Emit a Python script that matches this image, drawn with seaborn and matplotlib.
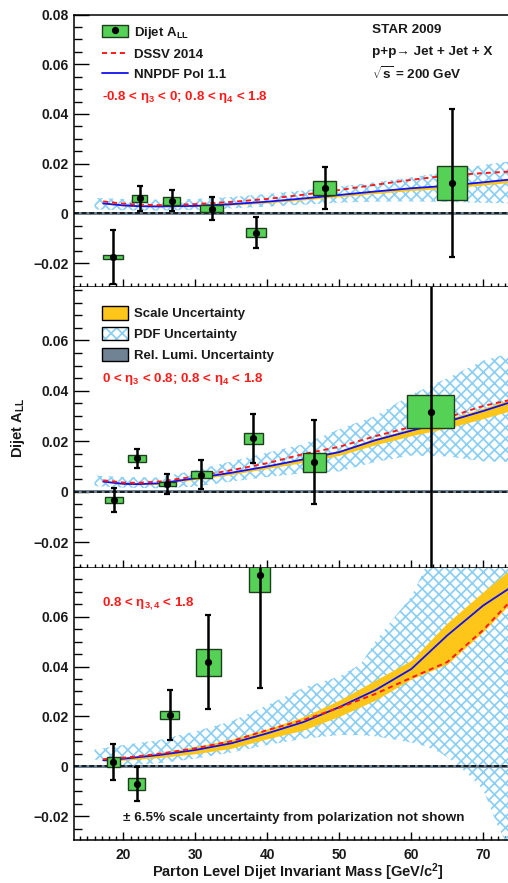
import numpy as np
import matplotlib
matplotlib.use("Agg")
import matplotlib.pyplot as plt
import seaborn as sns
from matplotlib.patches import Patch
from matplotlib.lines import Line2D
from matplotlib.legend_handler import HandlerTuple
from matplotlib.ticker import FixedLocator, MultipleLocator, FuncFormatter

# ---------------- STAR 2009 dijet A_LL, three eta topologies ----------------
# Topology A: -0.8 < eta3 < 0 ; 0.8 < eta4 < 1.8
mass_a = [18.55, 22.25, 26.7, 32.3, 38.4, 48.0, 65.7]
mass_sys_a = [1.35, 1.0, 1.2, 1.6, 1.4, 1.6, 2.1]
all_a = [-0.0175, 0.0060, 0.0050, 0.0019, -0.0078, 0.0101, 0.0122]
stat_a = [0.0109, 0.0049, 0.0042, 0.0045, 0.0062, 0.0085, 0.0298]
sys_a = [0.0009, 0.0013, 0.0016, 0.0015, 0.0019, 0.0028, 0.0069]

# Topology B: 0 < eta3 < 0.8 ; 0.8 < eta4 < 1.8
mass_b = [18.65, 21.9, 26.1, 30.85, 38.05, 46.5, 62.7]
mass_sys_b = [1.25, 1.2, 1.2, 1.45, 1.35, 1.6, 3.25]
all_b = [-0.0033, 0.0132, 0.0031, 0.0068, 0.0212, 0.0117, 0.0317]
stat_b = [0.0046, 0.0037, 0.0041, 0.0058, 0.0098, 0.0167, 0.0700]
sys_b = [0.0011, 0.0015, 0.0009, 0.0015, 0.0021, 0.0038, 0.0066]

# Topology C: 0.8 < eta3,4 < 1.8
mass_c = [18.6, 21.85, 26.45, 31.8, 38.95]
mass_sys_c = [0.9, 1.2, 1.35, 1.7, 1.45]
all_c = [0.0016, -0.0071, 0.0207, 0.0417, 0.0769]
stat_c = [0.0072, 0.0067, 0.0100, 0.0189, 0.0456]
sys_c = [0.0020, 0.0023, 0.0016, 0.0055, 0.0069]

# ---------------- theory predictions ----------------
theory_mass = [17.2, 20, 22, 25, 30, 35, 40, 45, 50, 55, 60, 65, 70, 75]

nnpdf_a = [0.0040, 0.0032, 0.0029, 0.0028, 0.0030, 0.0037, 0.0047, 0.0060, 0.0074, 0.0088, 0.0101, 0.0111, 0.0125, 0.0140]
dssv_a = [0.0048, 0.0039, 0.0035, 0.0033, 0.0037, 0.0046, 0.0058, 0.0075, 0.0094, 0.0115, 0.0135, 0.0152, 0.0162, 0.0170]
scale_lo_a = [0.0038, 0.0030, 0.0027, 0.0026, 0.0027, 0.0033, 0.0042, 0.0054, 0.0067, 0.0080, 0.0092, 0.0101, 0.0114, 0.0128]
scale_hi_a = [0.0041, 0.0033, 0.0030, 0.0029, 0.0031, 0.0038, 0.0048, 0.0061, 0.0075, 0.0089, 0.0102, 0.0112, 0.0126, 0.0141]

nnpdf_b = [0.0040, 0.0031, 0.0030, 0.0033, 0.0053, 0.0075, 0.0100, 0.0128, 0.0157, 0.0204, 0.0242, 0.0278, 0.0320, 0.0366]
dssv_b = [0.0045, 0.0036, 0.0035, 0.0040, 0.0060, 0.0085, 0.0113, 0.0149, 0.0178, 0.0220, 0.0257, 0.0294, 0.0340, 0.0372]
scale_lo_b = [0.0038, 0.0029, 0.0027, 0.0029, 0.0048, 0.0068, 0.0092, 0.0116, 0.0144, 0.0186, 0.0222, 0.0252, 0.0290, 0.0331]
scale_hi_b = [0.0042, 0.0033, 0.0032, 0.0035, 0.0056, 0.0079, 0.0105, 0.0134, 0.0164, 0.0212, 0.0251, 0.0288, 0.0331, 0.0378]

nnpdf_c = [0.0024, 0.0030, 0.0036, 0.0045, 0.0065, 0.0092, 0.0132, 0.0177, 0.0237, 0.0305, 0.0390, 0.0525, 0.0645, 0.0740]
dssv_c = [0.0028, 0.0034, 0.0040, 0.0050, 0.0072, 0.0100, 0.0145, 0.0185, 0.0235, 0.0290, 0.0355, 0.0418, 0.0547, 0.0700]
scale_lo_c = [0.0020, 0.0024, 0.0028, 0.0035, 0.0050, 0.0072, 0.0110, 0.0145, 0.0200, 0.0265, 0.0350, 0.0410, 0.0540, 0.0690]
scale_hi_c = [0.0030, 0.0036, 0.0043, 0.0053, 0.0078, 0.0108, 0.0150, 0.0198, 0.0265, 0.0345, 0.0425, 0.0575, 0.0700, 0.0820]

# NNPDF replica (PDF) uncertainty envelopes
pdf_mass_a = [16, 20, 25, 30, 35, 40, 45, 50, 55, 60, 65, 70, 75]
pdf_lo_a = [0.0016, 0.0012, 0.0011, 0.0014, 0.0020, 0.0027, 0.0035, 0.0043, 0.0047, 0.0048, 0.0046, 0.0042, 0.0040]
pdf_hi_a = [0.0062, 0.0058, 0.0055, 0.0058, 0.0066, 0.0078, 0.0092, 0.0108, 0.0125, 0.0145, 0.0168, 0.0195, 0.0215]

pdf_mass_b = [16, 20, 25, 30, 35, 40, 45, 50, 55, 60, 65, 70, 75]
pdf_lo_b = [0.0022, 0.0016, 0.0013, 0.0020, 0.0040, 0.0058, 0.0073, 0.0080, 0.0118, 0.0143, 0.0140, 0.0120, 0.0118]
pdf_hi_b = [0.0064, 0.0058, 0.0056, 0.0085, 0.0120, 0.0155, 0.0188, 0.0248, 0.0300, 0.0385, 0.0450, 0.0520, 0.0560]

pdf_mass_c = [16, 20, 25, 30, 35, 40, 45, 50, 53, 55, 58, 60, 62, 64, 66, 68, 70, 72, 74]
pdf_lo_c = [0.0027, 0.0002, 0.0012, 0.0030, 0.0055, 0.0085, 0.0110, 0.0125, 0.0125, 0.0120, 0.0105, 0.0095, 0.0080, 0.0055, 0.0015, -0.0035, -0.0095, -0.0240, -0.0350]
pdf_hi_c = [0.0067, 0.0085, 0.0105, 0.0140, 0.0180, 0.0245, 0.0315, 0.0360, 0.0410, 0.0500, 0.0610, 0.0680, 0.0800, 0.0900, 0.0950, 0.0950, 0.0950, 0.0950, 0.0950]

# relative luminosity systematic around zero
lumi_unc = 0.0006

# ---------------- style ----------------
sns.set_theme(style="ticks")
plt.rcParams["font.family"] = ["Liberation Sans", "DejaVu Sans"]
plt.rcParams["font.weight"] = "bold"
plt.rcParams["mathtext.fontset"] = "custom"
plt.rcParams["mathtext.rm"] = "Liberation Sans:bold"
plt.rcParams["mathtext.it"] = "Liberation Sans:bold"
plt.rcParams["mathtext.bf"] = "Liberation Sans:bold"
plt.rcParams["hatch.linewidth"] = 1.25
plt.rcParams["text.color"] = "#1a1a1a"

GREEN = "#55d155"
GREEN_EDGE = "#1d3d1d"
YELLOW = "#ffc61a"
HATCH = "#8ccff5"
SLATE = "#6f8395"
RED = "#ff1a1a"
BLUE = "#1010f0"
TXT = 9.5

W, H = 508, 883
fig = plt.figure(figsize=(W / 100, H / 100), dpi=100)

left = 74 / W
width = 1.0 - left
rows = [(14.5, 286.7), (286.7, 568.3), (568.3, 840.0)]
axes = []
for top_px, bot_px in rows:
    ax = fig.add_axes([left, 1 - bot_px / H, width, (bot_px - top_px) / H])
    axes.append(ax)

ylims = [(-0.0295, 0.0800), (-0.0304, 0.0813), (-0.0296, 0.0794)]
majors = [[-0.02, 0, 0.02, 0.04, 0.06, 0.08],
          [-0.02, 0, 0.02, 0.04, 0.06],
          [-0.02, 0, 0.02, 0.04, 0.06]]

panels = [
    (mass_a, mass_sys_a, all_a, stat_a, sys_a, nnpdf_a, dssv_a, scale_lo_a, scale_hi_a, pdf_mass_a, pdf_lo_a, pdf_hi_a),
    (mass_b, mass_sys_b, all_b, stat_b, sys_b, nnpdf_b, dssv_b, scale_lo_b, scale_hi_b, pdf_mass_b, pdf_lo_b, pdf_hi_b),
    (mass_c, mass_sys_c, all_c, stat_c, sys_c, nnpdf_c, dssv_c, scale_lo_c, scale_hi_c, pdf_mass_c, pdf_lo_c, pdf_hi_c),
]


def yfmt(v, _):
    if abs(v) < 1e-9:
        return "0"
    return f"{v:.2f}".replace("-", "\u2212")


for i, (ax, p) in enumerate(zip(axes, panels)):
    m, msys, a, st, sy, nn, ds, slo, shi, pm, plo, phi = p
    m = np.asarray(m); msys = np.asarray(msys)
    a = np.asarray(a); st = np.asarray(st); sy = np.asarray(sy)

    # PDF uncertainty (hatched) and scale uncertainty (solid) bands
    ax.fill_between(pm, plo, phi, facecolor="none", edgecolor=HATCH,
                    hatch="xxx", linewidth=0, zorder=1)
    ax.fill_between(theory_mass, slo, shi, color=YELLOW, linewidth=0, zorder=2)

    # relative luminosity band and zero line
    ax.axhspan(-lumi_unc, lumi_unc, color=SLATE, linewidth=0, zorder=2.5)
    ax.axhline(0, color="black", linestyle=(0, (3.2, 1.8)), linewidth=1.1, zorder=2.6)

    # theory curves
    sns.lineplot(x=theory_mass, y=nn, ax=ax, color=BLUE, linewidth=1.3, zorder=3)
    sns.lineplot(x=theory_mass, y=ds, ax=ax, color=RED, linewidth=1.4, zorder=3.1)
    ax.lines[-1].set_dashes([2.6, 2.0])

    # systematic boxes and statistical error bars
    ax.bar(m, 2 * sy, bottom=a - sy, width=2 * msys, color=GREEN,
           edgecolor=GREEN_EDGE, linewidth=1.0, zorder=4)
    ax.errorbar(m, a, yerr=st, fmt="o", color="black", ms=4.2,
                elinewidth=1.8, capsize=2.2, capthick=1.6, zorder=5)

    ax.set_xlim(13.15, 73.43)
    ax.set_ylim(*ylims[i])
    ax.yaxis.set_major_locator(FixedLocator(majors[i]))
    ax.yaxis.set_minor_locator(MultipleLocator(0.005))
    ax.yaxis.set_major_formatter(FuncFormatter(yfmt))
    ax.xaxis.set_major_locator(MultipleLocator(10))
    ax.xaxis.set_minor_locator(MultipleLocator(1))
    ax.tick_params(axis="y", which="major", direction="in", length=11, width=1.0,
                   labelsize=10, pad=4, colors="black", labelcolor="#1a1a1a")
    ax.tick_params(axis="y", which="minor", direction="in", length=5.5, width=1.0, colors="black")
    ax.tick_params(axis="x", which="major", direction="in", length=6, width=1.0,
                   labelsize=10, pad=6, colors="black", labelcolor="#1a1a1a")
    ax.tick_params(axis="x", which="minor", direction="in", length=3, width=1.0, colors="black")
    ax.spines["right"].set_visible(False)
    ax.spines["top"].set_visible(i == 0)
    for s in ax.spines.values():
        s.set_color("black")
        s.set_linewidth(1.1)
    if i < 2:
        ax.tick_params(axis="x", labelbottom=False)
    ax.set_xlabel("")
    ax.set_ylabel("")
    ax.set_facecolor("white")

ax_a, ax_b, ax_c = axes
red_kw = dict(color=RED, fontsize=9.6, ha="left", va="center")
overlay = {tuple: HandlerTuple(ndivide=1, pad=0)}

# top panel legend and labels
h_data = (Patch(facecolor=GREEN, edgecolor=GREEN_EDGE, linewidth=1.0),
          Line2D([], [], marker="o", color="black", ms=4.2, linestyle="none"))
h_dssv = Line2D([], [], color=RED, linewidth=1.4, dashes=[2.6, 2.0])
h_nnpdf = Line2D([], [], color=BLUE, linewidth=1.3)
ax_a.legend([h_data, h_dssv, h_nnpdf],
            ["Dijet A$_{\\mathregular{LL}}$", "DSSV 2014", "NNPDF Pol 1.1"],
            handler_map=overlay,
            loc="upper left", bbox_to_anchor=(0.0638, 0.963), frameon=False,
            fontsize=TXT, handlelength=2.0, handleheight=1.0, handletextpad=0.45,
            labelspacing=0.52, borderpad=0, borderaxespad=0)
ax_a.text(0.0638, 0.698, "-0.8 < $\\eta_{3}$ < 0; 0.8 < $\\eta_{4}$ < 1.8",
          transform=ax_a.transAxes, **red_kw)
for y, s in [(0.943, "STAR 2009"),
             (0.861, "p+p\u2192 Jet + Jet + X"),
             (0.784, "$\\sqrt{s}$ = 200 GeV")]:
    ax_a.text(0.686, y, s, transform=ax_a.transAxes, fontsize=9.7,
              ha="left", va="center")

# middle panel legend and labels
h_scale = Patch(facecolor=YELLOW, edgecolor="black", linewidth=1.0)
h_pdf = (Patch(facecolor="white", edgecolor=HATCH, hatch="xxx", linewidth=0),
         Patch(facecolor="none", edgecolor="black", linewidth=1.0))
h_lumi = Patch(facecolor=SLATE, edgecolor="black", linewidth=1.0)
ax_b.legend([h_scale, h_pdf, h_lumi],
            ["Scale Uncertainty", "PDF Uncertainty", "Rel. Lumi. Uncertainty"],
            handler_map=overlay,
            loc="upper left", bbox_to_anchor=(0.0638, 0.930), frameon=False,
            fontsize=TXT, handlelength=2.0, handleheight=1.15, handletextpad=0.45,
            labelspacing=0.52, borderpad=0, borderaxespad=0)
ax_b.text(0.0638, 0.672, "0 < $\\eta_{3}$ < 0.8; 0.8 < $\\eta_{4}$ < 1.8",
          transform=ax_b.transAxes, **red_kw)

# bottom panel labels
ax_c.text(0.0638, 0.871, "0.8 < $\\eta_{3,4}$ < 1.8", transform=ax_c.transAxes, **red_kw)
ax_c.text(0.1136, 0.0795, "\u00b1 6.5% scale uncertainty from polarization not shown",
          transform=ax_c.transAxes, fontsize=9.7, ha="left", va="center")

fig.text(18 / W, 1 - 428 / H, "Dijet A$_{\\mathregular{LL}}$", rotation=90,
         fontsize=10.5, ha="center", va="center")
fig.text(297.5 / W, 1 - 872 / H, "Parton Level Dijet Invariant Mass [GeV/c$^{2}$]",
         fontsize=10.5, ha="center", va="center")

fig.savefig("out.png", dpi=100, facecolor="white")
